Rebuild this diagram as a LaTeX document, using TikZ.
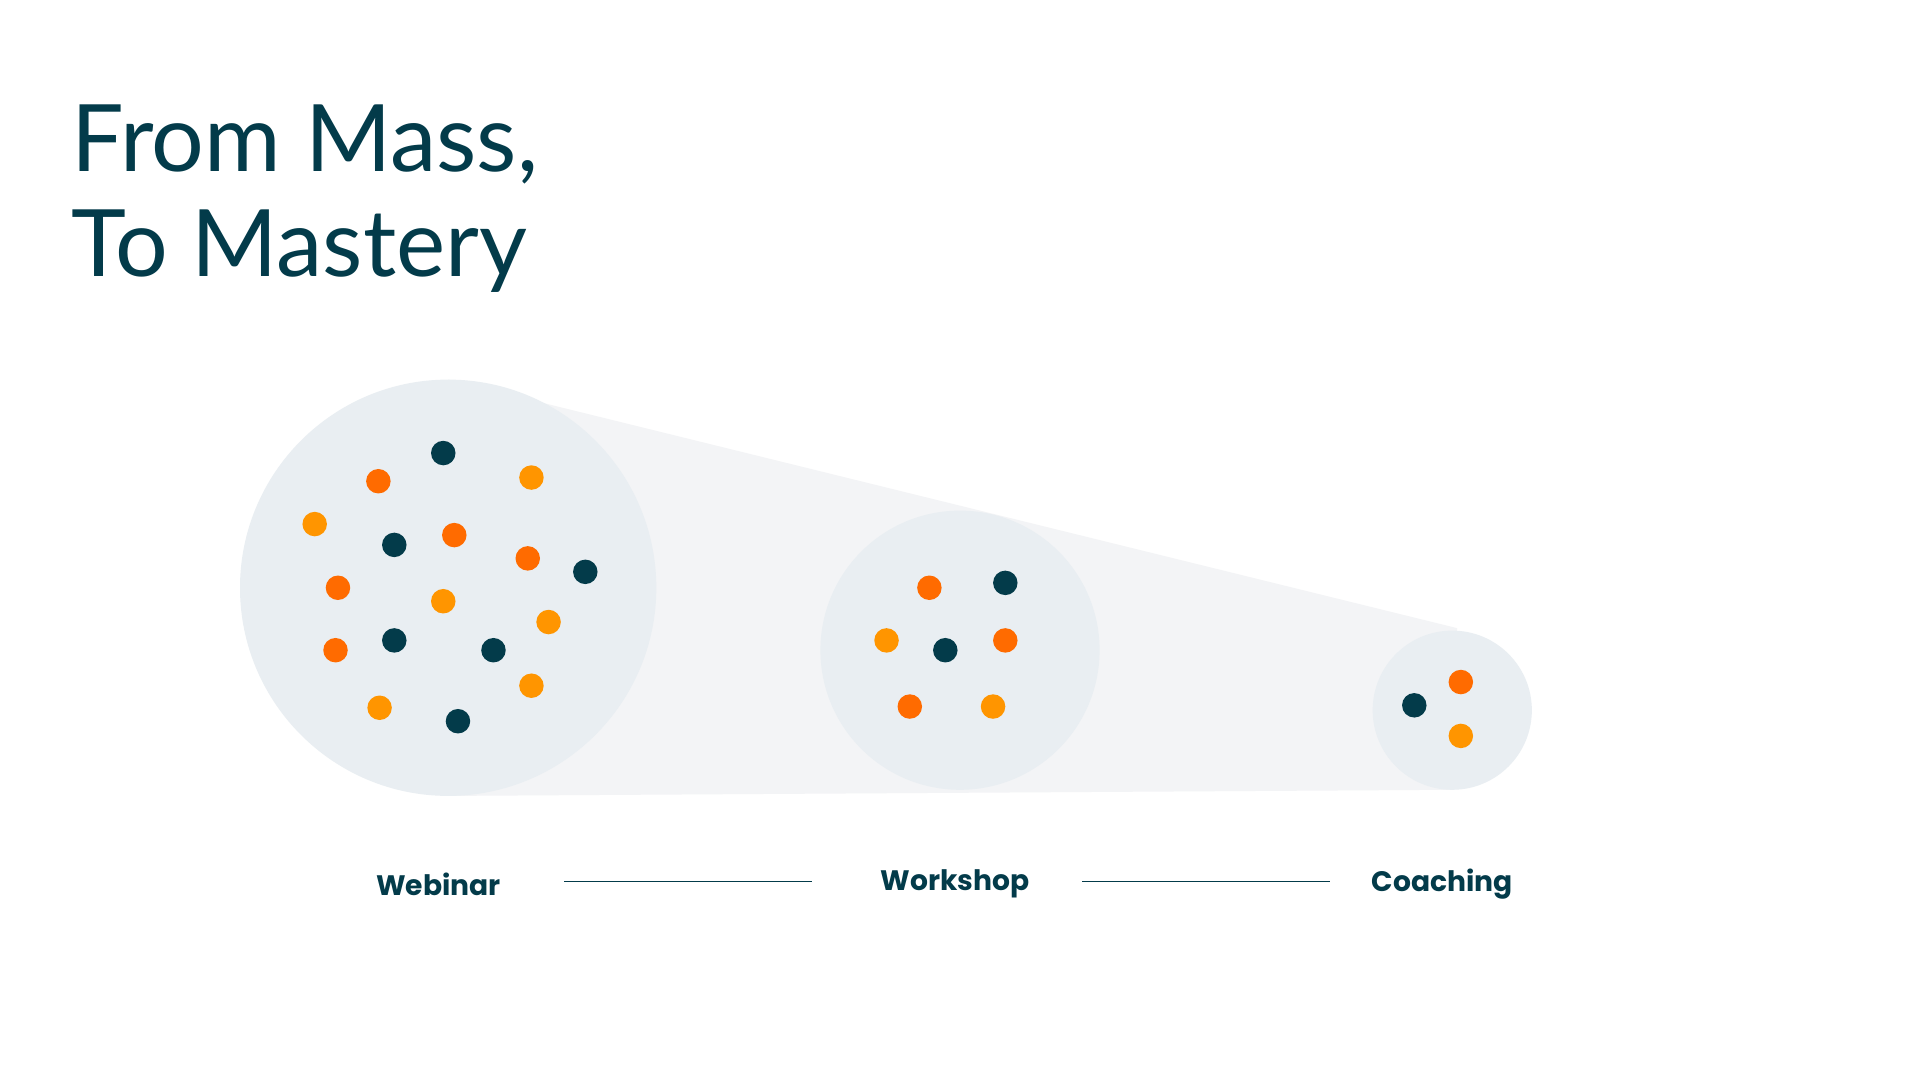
\documentclass[tikz,border=0pt]{standalone}
\usepackage{fontspec}
\setmainfont{Lato}
\newfontfamily\lblfont{Poppins}
\begin{document}
\begin{tikzpicture}[x=1pt,y=-1pt,
  dk/.style={fill=dkc}, ot/.style={fill=orc}, am/.style={fill=amc},
  dot/.style={circle,inner sep=0pt,minimum size=20pt},
  lbl/.style={font=\lblfont\bfseries\fontsize{23}{26}\selectfont,text=dkc},
  conn/.style={draw=dkc,line width=1.3pt}]
\definecolor{dkc}{HTML}{033B4A}
\definecolor{orc}{HTML}{FF6B00}
\definecolor{amc}{HTML}{FF9500}
\definecolor{fun}{HTML}{F3F4F6}
\definecolor{cir}{HTML}{E9EEF2}
\fill[white] (0,0) rectangle (1568,882);
\useasboundingbox (0,0) rectangle (1568,882);
\node[anchor=base west,inner sep=0pt,text=dkc,font=\fontsize{76}{88}\selectfont,align=left] (title) at (58,140) {From Mass,};
\node[anchor=base west,inner sep=0pt,text=dkc,font=\fontsize{76}{88}\selectfont] (title2) at (58,226) {To Mastery};
\fill[fun] (366,310) -- (1190,513) -- (1186,645) -- (366,650) -- cycle;
\fill[cir] (366,480) circle (170);
\fill[cir] (784,531) circle (114);
\fill[cir] (1186,580) circle (65);
\foreach \p [count=\i] in {(362,370),(322,445),(478,467),(322,523),(403,531),(374,589),(821,476),(772,531),(1155,576)}
  \node[dot,dk] (d\i) at \p {};
\foreach \p [count=\i] in {(309,393),(371,437),(431,456),(276,480),(274,531),(759,480),(821,523),(743,577),(1193,557)}
  \node[dot,ot] (o\i) at \p {};
\foreach \p [count=\i] in {(434,390),(257,428),(362,491),(448,508),(434,560),(310,578),(724,523),(811,577),(1193,601)}
  \node[dot,am] (a\i) at \p {};
\node[lbl] (web) at (358,722) {Webinar};
\node[lbl] (work) at (780,722) {Workshop};
\node[lbl] (coach) at (1178,722) {Coaching};
\coordinate (l1a) at (461,720); \coordinate (l1b) at (663,720);
\coordinate (l2a) at (884,720); \coordinate (l2b) at (1086,720);
\draw[conn] (l1a) -- (l1b);
\draw[conn] (l2a) -- (l2b);
\end{tikzpicture}
\end{document}
